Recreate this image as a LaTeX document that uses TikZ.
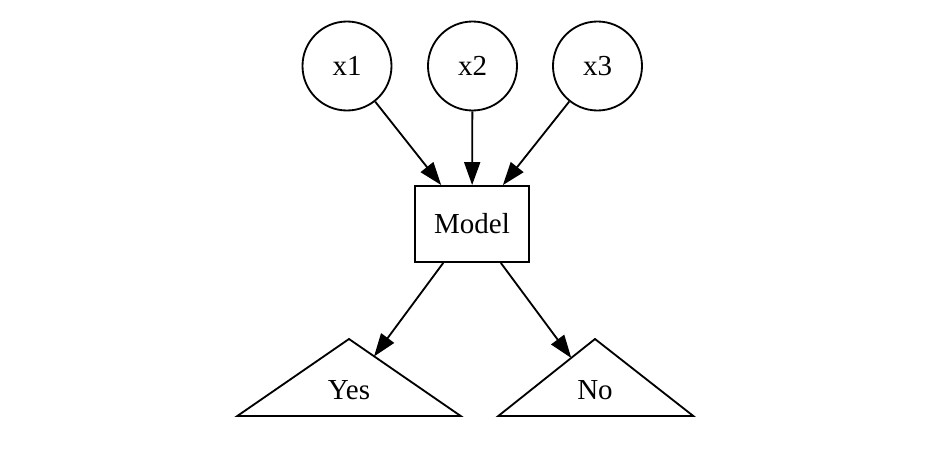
\documentclass[tikz,border=0pt]{standalone}
\usepackage{fontspec}
\setmainfont{Liberation Serif}
\usetikzlibrary{arrows.meta}
\begin{document}
\begin{tikzpicture}[x=0.6pt, y=-0.6pt, line width=1.1pt,
  font=\fontsize{17.4}{21}\selectfont,
  input/.style={draw, circle, minimum size=53.4pt, inner sep=0pt},
  model/.style={draw, rectangle, minimum width=68.4pt, minimum height=45.6pt},
  edge/.style={-{Triangle[length=13.8pt, width=9.6pt]}}]
\useasboundingbox (0,0) rectangle (928,465);
% Define inputs
\node[input] (x1) at (347,66) {x1};
\node[input] (x2) at (472.5,66) {x2};
\node[input] (x3) at (597.5,66) {x3};
% Model
\node[model] (model) at (472,224) {Model};
% Outputs
\draw (237.3,416) -- (349,339) -- (460.7,416) -- cycle; \node (yes) at (349,390) {Yes};
\draw (498.3,416) -- (595,339) -- (693.3,416) -- cycle; \node (no) at (595,390) {No};
\coordinate (yestip) at (374,356.5);
\coordinate (notip) at (571.3,358);
% Edges
\draw[edge] (x1) -- (model);
\draw[edge] (x2) -- (model);
\draw[edge] (x3) -- (model);
\draw[edge] (model) -- (yestip);
\draw[edge] (model) -- (notip);
\end{tikzpicture}
\end{document}
